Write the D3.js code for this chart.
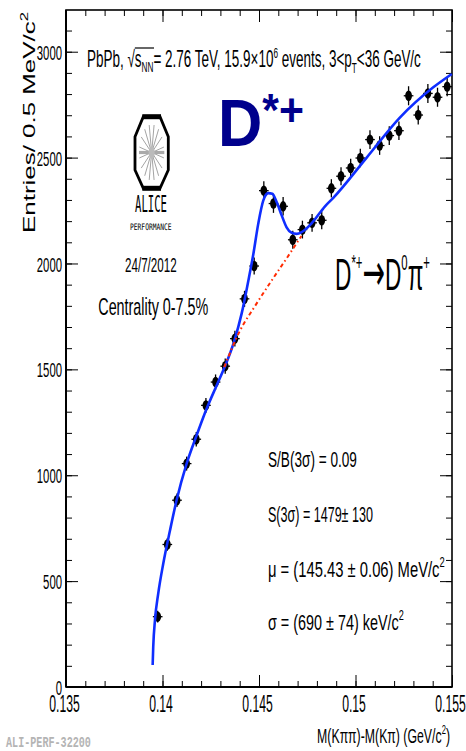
<!DOCTYPE html>
<html><head><meta charset="utf-8">
<script src="https://cdn.jsdelivr.net/npm/d3@7"></script>
<style>body{margin:0;background:#fff}svg{display:block}</style>
</head><body>
<svg id="c" width="466" height="751"></svg>
<script>
// ---------------- data ----------------
const binCenters = [0.13975,0.14025,0.14075,0.14125,0.14175,0.14225,0.14275,0.14325,0.14375,0.14425,
  0.14475,0.14525,0.14575,0.14625,0.14675,0.14725,0.14775,0.14825,0.14875,0.14925,
  0.14975,0.15025,0.15075,0.15125,0.15175,0.15225,0.15275,0.15325,0.15375,0.15425,0.15475];
const entries = [332,673,882,1055,1170,1330,1440,1515,1645,1833,
  1988,2344,2283,2270,2112,2160,2192,2204,2355,2412,
  2451,2498,2585,2557,2604,2627,2792,2701,2803,2785,2835];
const entryErrors = [28,30,32,33,34,35,36,36,37,38,
  40,44,44,44,42,42,42,42,43,43,
  43,44,44,44,44,44,45,45,45,45,45];
const binHalfWidth = 0.00025;

const fitX = [0.13949,0.13952,0.13961,0.13978,0.14004,0.14039,0.14073,0.14125,0.14177,0.14229,0.14281,
  0.14322,0.14370,0.14410,0.14445,0.14471,0.14496,0.14522,0.14548,0.14569,0.14592,0.14618,0.14643,
  0.14669,0.14695,0.14721,0.14773,0.14842,0.14885,0.15058,0.15231,0.15403,0.15499];
const fitY = [104,190,316,442,583,740,882,1055,1189,1315,1425,
  1511,1629,1763,1920,2046,2187,2297,2332,2329,2289,2226,2171,
  2145,2140,2148,2190,2270,2310,2500,2690,2832,2895];
const bkgX = [0.1432,0.1440,0.1448,0.1456,0.1464,0.1472];
const bkgY = [1511,1680,1800,1912,2020,2130];

const xMajorTicks = [0.135,0.14,0.145,0.15,0.155];
const xTickLabels = ["0.135","0.14","0.145","0.15","0.155"];
const yMajorTicks = [0,500,1000,1500,2000,2500,3000];
const yTickLabels = ["0","500","1000","1500","2000","2500","3000"];

// ---------------- layout ----------------
const L=66, R=452, T=10, B=687;
const FONT = "'Liberation Sans', Arial, Helvetica, sans-serif";
const svg = d3.select("#c");
const x = d3.scaleLinear().domain([0.135,0.155]).range([L,R]);
const y = d3.scaleLinear().domain([0,3197]).range([B,T]);
const xMinor = x.ticks(20), yMinor = y.ticks(32);

function styleAxis(g){ g.select(".domain").remove(); g.selectAll(".tick line").attr("stroke","#000").attr("stroke-width",1); }

// minor ticks
svg.append("g").attr("transform",`translate(${L},0)`).call(d3.axisLeft(y).tickValues(yMinor).tickSize(-6).tickFormat("")).call(styleAxis);
svg.append("g").attr("transform",`translate(${R},0)`).call(d3.axisRight(y).tickValues(yMinor).tickSize(-6).tickFormat("")).call(styleAxis);
svg.append("g").attr("transform",`translate(0,${B})`).call(d3.axisBottom(x).tickValues(xMinor).tickSize(-6).tickFormat("")).call(styleAxis);
svg.append("g").attr("transform",`translate(0,${T})`).call(d3.axisTop(x).tickValues(xMinor).tickSize(-6).tickFormat("")).call(styleAxis);
// major ticks
svg.append("g").attr("transform",`translate(${R},0)`).call(d3.axisRight(y).tickValues(yMajorTicks).tickSize(-12).tickFormat("")).call(styleAxis);
svg.append("g").attr("transform",`translate(0,${T})`).call(d3.axisTop(x).tickValues(xMajorTicks).tickSize(-12).tickFormat("")).call(styleAxis);

const sy = 0.54, sx = 0.53;
const gLeft = svg.append("g").attr("transform",`translate(${L},0)`)
  .call(d3.axisLeft(y).tickValues(yMajorTicks).tickSize(-12).tickPadding(0).tickFormat(d=>yTickLabels[yMajorTicks.indexOf(d)]))
  .call(styleAxis);
gLeft.selectAll(".tick text").attr("font-family",FONT).attr("font-size",21).attr("fill","#000")
  .attr("x",-4/sy).attr("dy","0.36em").attr("transform",`scale(${sy},1)`);
const gBot = svg.append("g").attr("transform",`translate(0,${B})`)
  .call(d3.axisBottom(x).tickValues(xMajorTicks).tickSize(-12).tickFormat(d=>xTickLabels[xMajorTicks.indexOf(d)]))
  .call(styleAxis);
gBot.selectAll(".tick text").attr("font-family",FONT).attr("font-size",23).attr("fill","#000")
  .attr("x",-2/sx).attr("y",25).attr("dy",0).attr("transform",`scale(${sx},1)`);

// frame
svg.append("rect").attr("x",L).attr("y",T).attr("width",R-L).attr("height",B-T)
  .attr("fill","none").attr("stroke","#000").attr("stroke-width",1.6);
svg.append("line").attr("x1",L).attr("x2",L).attr("y1",T).attr("y2",B).attr("stroke","#000").attr("stroke-width",2);
svg.append("line").attr("x1",L).attr("x2",R).attr("y1",B).attr("y2",B).attr("stroke","#000").attr("stroke-width",2);

// ---------------- data marks ----------------
const pts = binCenters.map((c,i)=>({c, v:entries[i], e:entryErrors[i]}));
const gp = svg.append("g");
gp.selectAll("line.ev").data(pts).join("line").attr("class","ev")
  .attr("x1",d=>x(d.c)).attr("x2",d=>x(d.c)).attr("y1",d=>y(d.v-d.e)).attr("y2",d=>y(d.v+d.e))
  .attr("stroke","#000").attr("stroke-width",1.3);
gp.selectAll("line.eh").data(pts).join("line").attr("class","eh")
  .attr("x1",d=>x(d.c-binHalfWidth)).attr("x2",d=>x(d.c+binHalfWidth)).attr("y1",d=>y(d.v)).attr("y2",d=>y(d.v))
  .attr("stroke","#000").attr("stroke-width",1.3);
gp.selectAll("ellipse").data(pts).join("ellipse")
  .attr("cx",d=>x(d.c)).attr("cy",d=>y(d.v)).attr("rx",3.4).attr("ry",5.2).attr("fill","#000");

const line = d3.line().x(d=>x(d[0])).y(d=>y(d[1])).curve(d3.curveMonotoneX);
svg.append("path").datum(fitX.map((v,i)=>[v,fitY[i]])).attr("d",line)
  .attr("fill","none").attr("stroke","#0f2eff").attr("stroke-width",2.6);
svg.append("path").datum(bkgX.map((v,i)=>[v,bkgY[i]])).attr("d",line)
  .attr("fill","none").attr("stroke","#ff2a00").attr("stroke-width",2).attr("stroke-dasharray","4,3,1.5,3");

// ---------------- text helpers ----------------
function label(x0,y0,opts,build){
  const g = svg.append("g");
  const t = g.append("text").attr("font-family",opts.family||FONT).attr("font-size",opts.size)
    .attr("font-weight",opts.weight||"normal").attr("fill",opts.fill||"#000")
    .attr("text-anchor",opts.anchor||"start");
  build(t);
  const w = t.node().getBBox().width;
  const s = opts.width ? opts.width / w : (opts.scale||1);
  g.attr("transform", `translate(${x0},${y0})` + (opts.rotate?` rotate(${opts.rotate})`:"") + ` scale(${s},1)`);
  return {g,t,s};
}
function sp(t,str,size,dy){ const ts=t.append("tspan").text(str); if(size) ts.attr("font-size",size); if(dy) ts.attr("dy",dy); return ts; }

// Header
const hdr = label(87,67,{size:23,width:334},t=>{
  sp(t,"PbPb, ");
  sp(t,"\u221A");
  sp(t,"s");
  sp(t,"NN",14,5);
  sp(t,"= 2.76 TeV, 15.9\u00D710",null,-5);
  sp(t,"6",14,-9);
  sp(t," events, 3<p",null,9);
  sp(t,"T",14,6);
  sp(t,"<36 GeV/c",null,-6);
});
{
  const n = hdr.t.node();
  const a = n.getExtentOfChar(7), b = n.getExtentOfChar(9);
  hdr.g.append("line").attr("x1",a.x).attr("x2",b.x+b.width+1).attr("y1",-19).attr("y2",-19)
    .attr("stroke","#000").attr("stroke-width",1.2);
}

// big D*+
label(218,146,{size:66,weight:"bold",fill:"#00008c",width:86},t=>{
  sp(t,"D");
  sp(t,"*+",46,-20);
});

// ALICE logo
{
  const g = svg.append("g");
  const l=135,r=168.3,tp=116.7,bt=188.3,cx=(l+r)/2,cy=(tp+bt)/2;
  const cut=8.3, cv1=20, cv2=18.3;
  const oct = [[l+cut,tp],[r-cut,tp],[r,tp+cv1],[r,bt-cv2],[r-cut,bt],[l+cut,bt],[l,bt-cv2],[l,tp+cv1]];
  g.append("polygon").attr("points",oct.map(p=>p.join(",")).join(" ")).attr("fill","#fff")
    .attr("stroke","#000").attr("stroke-width",2.8);
  for(let k=0;k<16;k++){
    const a=k*Math.PI/8+Math.PI/16;
    g.append("line").attr("x1",cx+2*Math.cos(a)).attr("y1",cy+4*Math.sin(a))
      .attr("x2",cx+12.5*Math.cos(a)).attr("y2",cy+28*Math.sin(a)).attr("stroke","#999").attr("stroke-width",0.9);
  }
  g.append("rect").attr("x",l+4).attr("y",cy-1.6).attr("width",r-l-8).attr("height",3.2).attr("fill","#aaa");
  g.append("ellipse").attr("cx",cx).attr("cy",cy).attr("rx",3).attr("ry",6).attr("fill","#bbb");
  g.append("rect").attr("x",l+cut-1).attr("y",tp-2.5).attr("width",r-l-2*cut+2).attr("height",5).attr("fill","#000");
  g.append("rect").attr("x",l+cut-1).attr("y",bt-2.5).attr("width",r-l-2*cut+2).attr("height",5).attr("fill","#000");
}
label(135,211.7,{size:23,family:"'DejaVu Sans Mono', monospace",width:32},t=>sp(t,"ALICE"));
label(130,230,{size:9,family:"'DejaVu Sans Mono', monospace",width:41.7},t=>sp(t,"PERFORMANCE"));

label(125,271.7,{size:21,width:51.7},t=>sp(t,"24/7/2012"));
label(98.3,315,{size:24,width:110},t=>sp(t,"Centrality 0-7.5%"));

// decay
label(335,290,{size:44,width:95},t=>{
  sp(t,"D");
  sp(t,"*+",22,-20);
  sp(t,"\u2192",null,20).attr("font-family","'DejaVu Sans', sans-serif").attr("font-size",52);
  sp(t,"D");
  sp(t,"0",22,-20);
  sp(t,"\u03C0",null,20);
  sp(t,"+",22,-20);
});

// stats
label(268,467,{size:22,width:89},t=>sp(t,"S/B(3\u03C3) = 0.09"));
label(268,521.5,{size:22,width:105},t=>sp(t,"S(3\u03C3) = 1479\u00B1 130"));
label(268,576.5,{size:22,width:177},t=>{ sp(t,"\u03BC = (145.43 \u00B1 0.06) MeV/c"); sp(t,"2",14,-10); });
label(268,630,{size:22,width:136},t=>{ sp(t,"\u03C3 = (690 \u00B1 74) keV/c"); sp(t,"2",14,-10); });

// axis titles
label(450,743,{size:21,anchor:"end",width:133},t=>{ sp(t,"M(K\u03C0\u03C0)-M(K\u03C0) (GeV/c"); sp(t,"2",13,-9); sp(t,")",null,9); });
label(35,12,{size:17,anchor:"end",rotate:-90,width:221},t=>{ sp(t,"Entries/ 0.5 MeV/c"); sp(t,"2",11,-7); });

// watermark
label(6,747,{size:14,family:"'Liberation Mono', 'DejaVu Sans Mono', monospace",weight:"bold",fill:"#b4b4b4",width:85},t=>sp(t,"ALI-PERF-32200"));
</script>
</body></html>
